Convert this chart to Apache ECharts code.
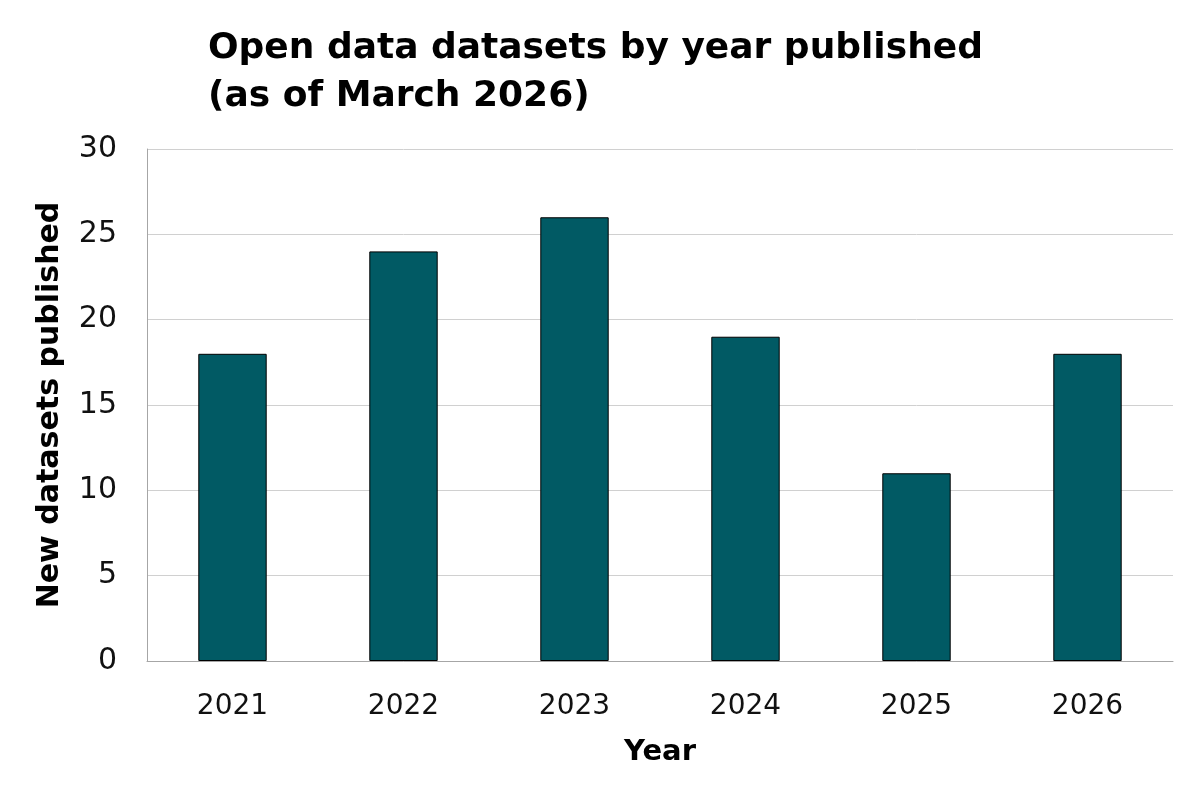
<!DOCTYPE html>
<html>
<head>
<meta charset="utf-8">
<script src="https://cdn.jsdelivr.net/npm/echarts@6/dist/echarts.min.js"></script>
<style>
  html, body { margin: 0; padding: 0; background: #fff; }
  #chart { width: 1200px; height: 800px; }
</style>
</head>
<body>
<div id="chart"></div>
<script>
var years = ['2021', '2022', '2023', '2024', '2025', '2026'];
var published = [18, 24, 26, 19, 11, 18];

var fontName = 'DejaVu Sans';
var chart = echarts.init(document.getElementById('chart'));
var option = {
    animation: false,
    title: {
        text: 'Open data datasets by year published\n(as of March 2026)',
        left: 203,
        top: 20,
        textStyle: {
            fontFamily: fontName,
            fontWeight: 'bold',
            fontSize: 36,
            lineHeight: 48,
            color: '#000'
        }
    },
    grid: {
        left: 147,
        right: 27,
        top: 149,
        bottom: 139
    },
    xAxis: {
        type: 'category',
        data: years,
        name: 'Year',
        nameLocation: 'middle',
        nameGap: 77,
        nameTextStyle: { fontFamily: fontName, fontWeight: 'bold', fontSize: 29, color: '#000' },
        axisLine: { lineStyle: { color: '#a6a6a6', width: 1 } },
        axisTick: { show: false },
        axisLabel: { fontFamily: fontName, fontSize: 28, color: '#111', margin: 32 }
    },
    yAxis: {
        type: 'value',
        min: 0,
        max: 30,
        interval: 5,
        name: 'New datasets published',
        nameLocation: 'middle',
        nameGap: 82,
        nameRotate: 90,
        nameTextStyle: { fontFamily: fontName, fontWeight: 'bold', fontSize: 30, color: '#000' },
        axisLine: { show: true, lineStyle: { color: '#a6a6a6', width: 1 } },
        axisTick: { show: false },
        axisLabel: { fontFamily: fontName, fontSize: 30, color: '#111', margin: 30, padding: [4, 0, 0, 0] },
        splitLine: { lineStyle: { color: '#d0d0d0', width: 1 } }
    },
    series: [{
        type: 'bar',
        data: published,
        barWidth: '40%',
        itemStyle: {
            color: '#015a64',
            borderColor: '#000',
            borderWidth: 1
        }
    }]
};
chart.setOption(option);
</script>
</body>
</html>
